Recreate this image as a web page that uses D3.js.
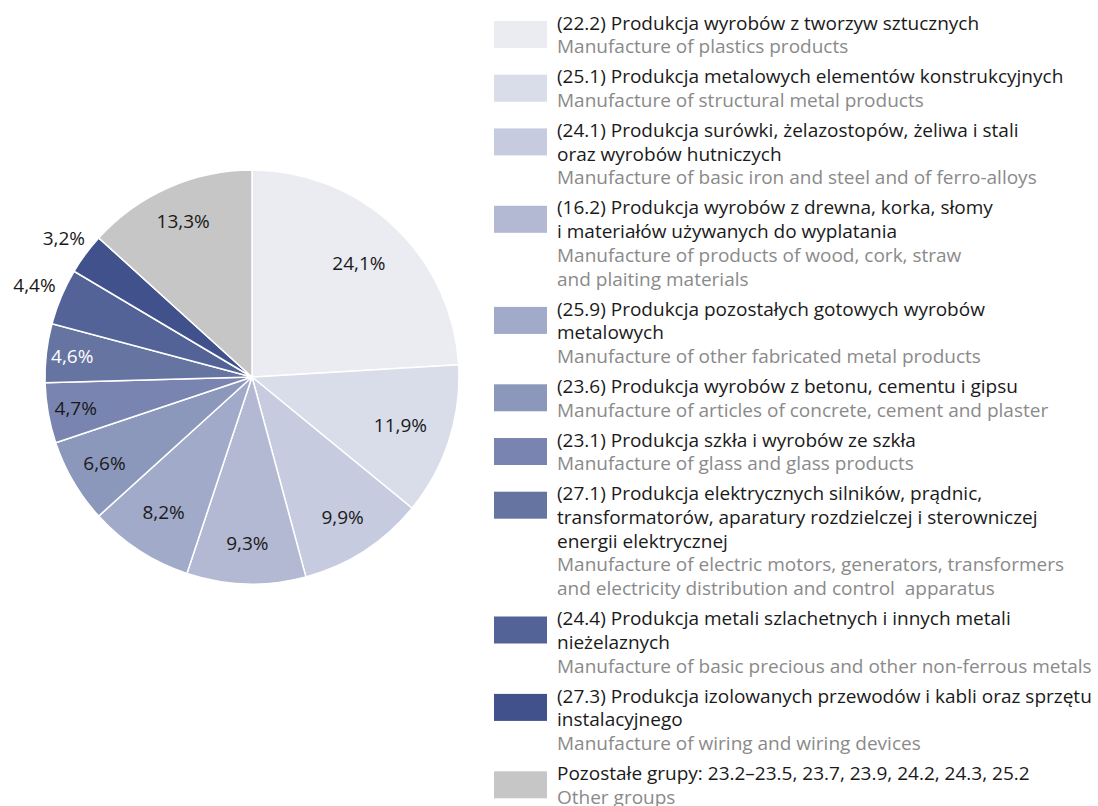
<!DOCTYPE html>
<html>
<head>
<meta charset="utf-8">
<script src="https://cdn.jsdelivr.net/npm/d3@7"></script>
<style>
  body { margin: 0; background: #fff; }
  svg { display: block; font-family: "Open Sans", sans-serif; }
</style>
</head>
<body>
<div id="chart"></div>
<script>
// NACE groups, in the order the slices run clockwise from 12 o'clock
const codes = ['22.2', '25.1', '24.1', '16.2', '25.9', '23.6', '23.1', '27.1', '24.4', '27.3', 'other'];
const shares = [24.1, 11.9, 9.9, 9.3, 8.2, 6.6, 4.7, 4.6, 4.4, 3.2, 13.3];
const shareLabels = ['24,1%', '11,9%', '9,9%', '9,3%', '8,2%', '6,6%', '4,7%', '4,6%', '4,4%', '3,2%', '13,3%'];
const namesPl = [
  ['(22.2) Produkcja wyrobów z tworzyw sztucznych'],
  ['(25.1) Produkcja metalowych elementów konstrukcyjnych'],
  ['(24.1) Produkcja surówki, żelazostopów, żeliwa i stali', 'oraz wyrobów hutniczych'],
  ['(16.2) Produkcja wyrobów z drewna, korka, słomy', 'i materiałów używanych do wyplatania'],
  ['(25.9) Produkcja pozostałych gotowych wyrobów', 'metalowych'],
  ['(23.6) Produkcja wyrobów z betonu, cementu i gipsu'],
  ['(23.1) Produkcja szkła i wyrobów ze szkła'],
  ['(27.1) Produkcja elektrycznych silników, prądnic,', 'transformatorów, aparatury rozdzielczej i sterowniczej', 'energii elektrycznej'],
  ['(24.4) Produkcja metali szlachetnych i innych metali', 'nieżelaznych'],
  ['(27.3) Produkcja izolowanych przewodów i kabli oraz sprzętu', 'instalacyjnego'],
  ['Pozostałe grupy: 23.2–23.5, 23.7, 23.9, 24.2, 24.3, 25.2']
];
const namesEn = [
  ['Manufacture of plastics products'],
  ['Manufacture of structural metal products'],
  ['Manufacture of basic iron and steel and of ferro-alloys'],
  ['Manufacture of products of wood, cork, straw', 'and plaiting materials'],
  ['Manufacture of other fabricated metal products'],
  ['Manufacture of articles of concrete, cement and plaster'],
  ['Manufacture of glass and glass products'],
  ['Manufacture of electric motors, generators, transformers', 'and electricity distribution and control  apparatus'],
  ['Manufacture of basic precious and other non-ferrous metals'],
  ['Manufacture of wiring and wiring devices'],
  ['Other groups']
];
const colors = ['#ebecf2', '#d9dde9', '#c6cbdf', '#b4b9d3', '#a1aac8', '#8c98bb',
                '#7985b0', '#6674a1', '#536397', '#41518b', '#c6c6c6'];

const W = 1098, H = 806;
const cx = 252, cy = 377, R = 207;
// label distance from centre, hand-tuned per slice (two small ones sit outside)
const labelR = [156, 156, 167, 166, 162, 171, 179, 181, 236, 234, 170];

const svg = d3.select('#chart').append('svg')
  .attr('width', W)
  .attr('height', H);

const color = d3.scaleOrdinal().domain(codes).range(colors);

const pie = d3.pie()
  .sort(null)
  .value(d => d.share);

const data = codes.map((c, i) => ({ code: c, share: shares[i], label: shareLabels[i] }));
const arcs = pie(data);

const arc = d3.arc().innerRadius(0).outerRadius(R);

const g = svg.append('g').attr('transform', `translate(${cx},${cy})`);

g.selectAll('path.slice')
  .data(arcs)
  .join('path')
  .attr('class', 'slice')
  .attr('d', arc)
  .attr('fill', d => color(d.data.code))
  .attr('stroke', '#fff')
  .attr('stroke-width', 1.5);

g.selectAll('text.pct')
  .data(arcs)
  .join('text')
  .attr('class', 'pct')
  .attr('transform', d => {
    const r = labelR[d.index];
    const c = d3.arc().innerRadius(r).outerRadius(r).centroid(d);
    return `translate(${c[0]},${c[1]})`;
  })
  .attr('text-anchor', 'middle')
  .attr('dy', '0.35em')
  .attr('font-size', 19)
  .attr('fill', d => d.data.code === '27.1' ? '#fff' : '#1a1a1a')
  .text(d => d.data.label);

// legend
const lx = 494, tx = 557, sw = 53, sh = 27;
const lineStep = 23.7, itemGap = 30;
const legend = svg.append('g');
let y = 23;
codes.forEach((c, i) => {
  const item = legend.append('g');
  item.append('rect')
    .attr('x', lx)
    .attr('y', y - 2)
    .attr('width', sw)
    .attr('height', sh)
    .attr('fill', color(c));
  const lines = namesPl[i].map(t => ({ t, fill: '#1a1a1a' }))
    .concat(namesEn[i].map(t => ({ t, fill: '#8a8a8a' })));
  lines.forEach((l, k) => {
    item.append('text')
      .attr('x', tx)
      .attr('y', y + k * lineStep)
      .attr('dy', '0.35em')
      .attr('font-size', 19)
      .attr('fill', l.fill)
      .style('white-space', 'pre')
      .text(l.t);
  });
  y += (lines.length - 1) * lineStep + itemGap;
});
</script>
</body>
</html>
